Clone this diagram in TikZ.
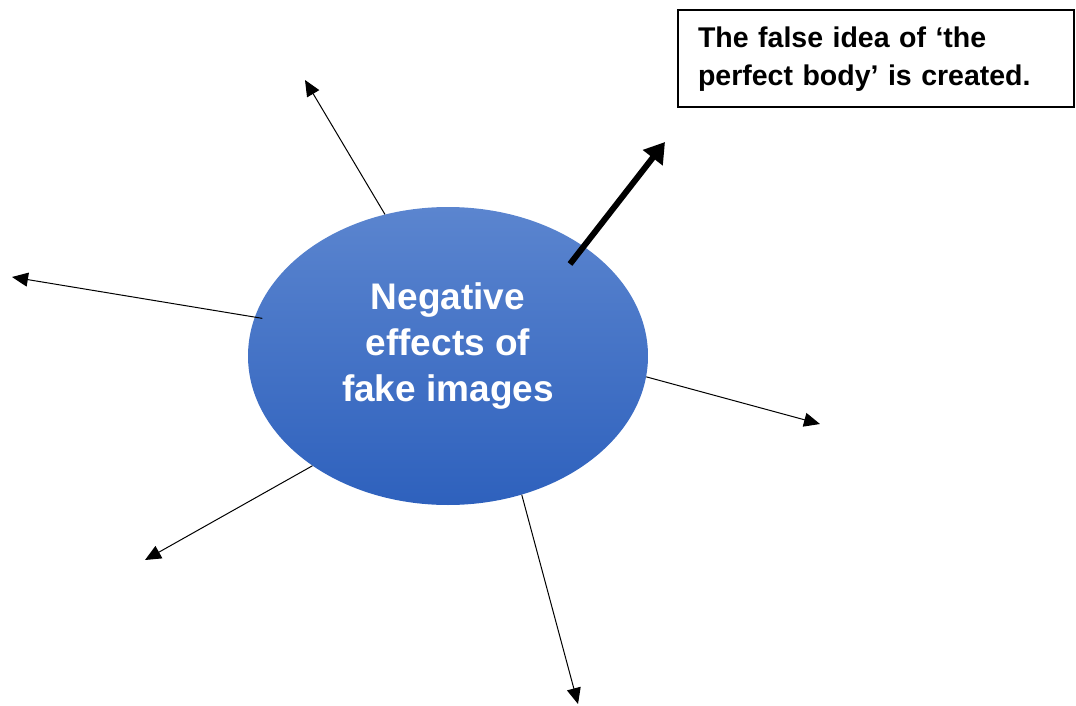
\documentclass[tikz,border=0pt]{standalone}
\usepackage{fontspec}
\setmainfont{Liberation Sans}
\usetikzlibrary{shapes.geometric,arrows.meta}
\definecolor{elltop}{HTML}{5B85CF}
\definecolor{ellbot}{HTML}{2E61BD}
\tikzset{
  hub/.style={ellipse, minimum width=400pt, minimum height=298pt, inner sep=0pt,
    top color=elltop, bottom color=ellbot, draw=none},
  hubtext/.style={align=center, text=white, font=\fontsize{37}{46}\selectfont\bfseries},
  notebox/.style={draw=black, line width=2pt, minimum width=396pt, minimum height=97pt,
    text width=356pt, align=left, font=\fontsize{28.5}{38}\selectfont\bfseries, inner sep=0pt},
  thinarrow/.style={line width=1pt, -{Triangle[length=16pt,width=14pt]}},
  thickarrow/.style={line width=6pt, -{Triangle[length=20pt,width=24pt]}}
}
\begin{document}
\begin{tikzpicture}[x=1pt,y=-1pt]
\useasboundingbox (0,0) rectangle (1076,706);
\node[hub] (c) at (448,356) {};
\node[hubtext] (ct) at (448,346) {Negative\\effects of\\fake images};
\node[notebox] (box) at (876,59) {The false idea of ‘the\\perfect body’ is created.};
\coordinate (e1) at (305,80);
\coordinate (e2) at (12,277);
\coordinate (e3) at (820,424);
\coordinate (e4) at (145,560);
\coordinate (e5) at (578,704);
\coordinate (t0) at (570,264);
\coordinate (t1) at (665,142);
\draw[thinarrow] (c.114.4) -- (e1);
\draw[thinarrow] ([xshift=8pt]c.169.3) -- (e2);
\draw[thinarrow] (c.-6.6) -- (e3);
\draw[thinarrow] (c.219.6) -- (e4);
\draw[thinarrow] (c.-62.9) -- (e5);
\draw[thickarrow] (t0) -- (t1);
\end{tikzpicture}
\end{document}
